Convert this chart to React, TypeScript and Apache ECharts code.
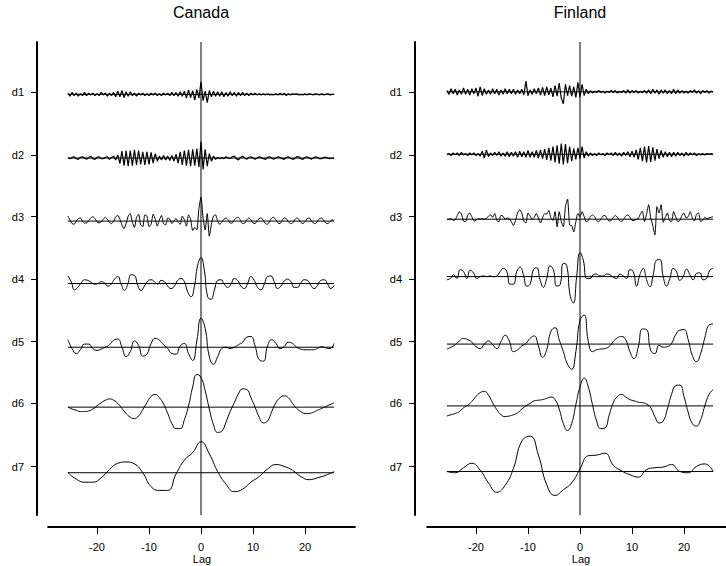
import React, { useEffect, useRef } from "react";
import * as echarts from "echarts";

const ROW_LABELS = ["d1", "d2", "d3", "d4", "d5", "d6", "d7"];
const X_TICKS = [-20, -10, 0, 10, 20];
const LAG_MAX = 25.6;
const FONT = "'Liberation Sans', Arial, Helvetica, sans-serif";

// ---------- Canada ----------
const canadaD1 = [
  0.02, -0.03, 0.03, -0.02, 0.02, -0.03, 0.01, -0.02, 0.03, -0.02,
  0.02, -0.01, 0.02, -0.02, 0.01, -0.02, 0.03, -0.01, 0.02, -0.03,
  0.02, -0.02, 0.03, -0.04, 0.05, -0.04, 0.06, -0.05, 0.04, -0.03,
  0.04, -0.02, 0.02, -0.03, 0.02, -0.01, 0.02, -0.02, 0.01, -0.02,
  0.02, -0.01, 0.02, -0.02, 0.01, -0.02, 0.02, -0.01, 0.02, -0.02,
  0.03, -0.02, 0.03, -0.03, 0.04, -0.03, 0.05, -0.06, 0.07, -0.05,
  0.06, -0.09, 0.08, -0.06, 0.2, -0.1, 0.05, -0.13, 0.06, -0.04,
  0.05, -0.03, 0.04, -0.03, 0.04, -0.04, 0.03, -0.03, 0.04, -0.02,
  0.03, -0.03, 0.03, -0.02, 0.03, -0.02, 0.02, -0.02, 0.02, -0.01,
  0.02, -0.01, 0.01, -0.01, 0.01, -0.01, 0.01, -0.01, 0.0, -0.01,
  0.01, -0.01, 0.02, -0.01, 0.02, -0.02, 0.01, -0.01, 0.01, 0.0,
  0.01, -0.01, 0.0, -0.01, 0.01, -0.01, 0.01, 0.0, -0.01, 0.01,
  0.0, -0.01, 0.01, -0.01, 0.0, 0.01, -0.01, 0.0, 0.0,
];
const canadaD2 = [
  0.0, -0.01, 0.01, 0.02, -0.01, -0.02, 0.01, 0.02, 0.0, -0.02,
  0.01, 0.03, -0.01, -0.02, 0.01, 0.02, -0.01, -0.01, 0.01, 0.02,
  -0.02, 0.01, 0.03, -0.03, 0.05, -0.09, 0.11, -0.12, 0.12, -0.13,
  0.12, -0.12, 0.13, -0.11, 0.12, -0.1, 0.1, -0.11, 0.1, -0.1,
  0.09, -0.08, 0.07, -0.05, 0.03, -0.03, 0.04, -0.03, 0.03, -0.04,
  0.04, -0.05, 0.06, -0.08, 0.1, -0.11, 0.12, -0.12, 0.13, -0.13,
  0.14, -0.12, 0.15, -0.14, 0.26, -0.18, 0.14, -0.13, 0.07, -0.05,
  0.03, -0.02, 0.01, -0.01, 0.01, -0.01, 0.02, 0.0, -0.01, 0.02,
  0.03, -0.01, -0.03, 0.01, 0.03, 0.0, -0.02, 0.01, 0.02, 0.0,
  -0.02, 0.0, 0.02, 0.01, -0.01, -0.02, 0.01, 0.02, 0.0, -0.02,
  0.0, 0.02, 0.01, -0.01, -0.02, 0.01, 0.02, 0.0, -0.02, -0.01,
  0.02, 0.02, -0.01, -0.02, 0.01, 0.02, 0.0, -0.02, 0.0, 0.02,
  0.01, -0.01, -0.01, 0.01, 0.01, 0.0, -0.01, 0.0, 0.0,
];
const canadaD3 = [
  0.08, 0.02, -0.04, -0.05, 0.0, 0.04, 0.05, 0.0, -0.03, -0.03,
  0.01, 0.05, 0.07, 0.04, -0.01, -0.03, -0.01, 0.03, 0.06, 0.03,
  -0.02, -0.04, 0.0, 0.07, 0.09, 0.03, -0.06, -0.12, -0.04, 0.08,
  0.12, -0.02, -0.1, 0.06, 0.11, -0.06, -0.09, 0.1, 0.08, -0.09,
  -0.05, 0.11, 0.03, -0.08, 0.02, 0.09, -0.04, -0.06, 0.05, 0.03,
  -0.04, 0.0, 0.04, -0.02, -0.05, 0.08, 0.02, -0.08, 0.1, 0.03,
  -0.15, -0.1, -0.14, 0.2, 0.38, 0.05, -0.14, 0.12, -0.24, -0.05,
  0.08, 0.1, 0.0, -0.05, -0.02, 0.03, 0.05, 0.02, -0.03, -0.03,
  0.02, 0.05, 0.06, 0.01, -0.04, -0.03, 0.02, 0.05, 0.02, -0.03,
  -0.04, 0.01, 0.04, 0.05, 0.01, -0.04, -0.05, 0.0, 0.05, 0.06,
  0.02, -0.03, -0.04, 0.01, 0.05, 0.04, -0.01, -0.04, -0.03, 0.02,
  0.05, 0.03, -0.02, -0.04, -0.01, 0.04, 0.05, 0.01, -0.03, -0.04,
  0.0, 0.04, 0.05, 0.01, -0.03, -0.04, -0.01, 0.02, 0.01,
];
const canadaD4 = [
  0.12, 0.03, -0.1, -0.06, 0.01, 0.06, 0.05, 0.02, -0.01, 0.0,
  0.03, 0.01, -0.04, -0.01, 0.07, 0.11, -0.01, -0.11, -0.01, 0.14,
  0.13, -0.03, -0.11, -0.04, 0.04, 0.06, 0.03, -0.01, 0.05, 0.03,
  -0.04, -0.08, -0.04, 0.05, 0.08, 0.03, -0.13, -0.21, -0.05, 0.29,
  0.41, 0.21, -0.21, -0.25, -0.11, 0.05, 0.06, -0.01, -0.06, -0.01,
  0.08, 0.05, -0.04, -0.08, 0.0, 0.11, 0.05, -0.06, -0.1, -0.01,
  0.11, 0.12, 0.03, -0.08, -0.04, 0.04, 0.07, 0.03, -0.06, -0.06,
  0.01, 0.06, 0.05, -0.03, -0.08, -0.03, 0.05, 0.06, 0.0, -0.08,
  -0.03,
];
const canadaD5 = [
  0.12, -0.02, -0.1, -0.04, 0.05, 0.05, -0.02, -0.05, -0.03, 0.0,
  0.04, 0.11, 0.13, 0.0, -0.15, -0.07, 0.1, 0.03, -0.14, -0.11,
  0.06, 0.14, 0.11, 0.04, -0.02, -0.1, -0.11, 0.02, 0.06, -0.1,
  -0.21, 0.1, 0.46, 0.3, -0.15, -0.27, -0.15, -0.02, 0.0, -0.02,
  0.0, 0.04, 0.08, 0.16, 0.17, 0.02, -0.2, -0.22, 0.02, 0.12,
  0.06, -0.02, 0.01, 0.08, 0.06, 0.0, -0.03, -0.04, -0.04, -0.04,
  -0.02, 0.01, -0.01, -0.02, 0.06,
];
const canadaD6 = [
  0.0, -0.03, -0.05, -0.07, -0.07, -0.06, -0.03, 0.02, 0.07, 0.11,
  0.13, 0.11, 0.06, -0.02, -0.1, -0.16, -0.18, -0.14, -0.04, 0.07,
  0.17, 0.2, 0.15, 0.05, -0.1, -0.26, -0.34, -0.34, -0.2, 0.02,
  0.32, 0.52, 0.47, 0.26, -0.03, -0.28, -0.4, -0.38, -0.24, -0.07,
  0.07, 0.21, 0.29, 0.28, 0.15, 0.0, -0.16, -0.25, -0.22, -0.07,
  0.07, 0.15, 0.18, 0.15, 0.06, -0.02, -0.07, -0.1, -0.1, -0.08,
  -0.05, -0.02, 0.01, 0.04, 0.07,
];
const canadaD7 = [
  0.0, -0.1, -0.15, -0.15, -0.08, 0.05, 0.15, 0.17, 0.14, 0.0,
  -0.22, -0.28, -0.28, -0.02, 0.2, 0.32, 0.49, 0.3, 0.02, -0.18,
  -0.3, -0.26, -0.15, -0.06, 0.06, 0.13, 0.1, 0.04, -0.06, -0.11,
  -0.08, -0.04, 0.02,
];

// ---------- Finland ----------
const finlandD1 = [
  0.02, -0.04, 0.05, -0.03, 0.04, -0.05, 0.03, -0.04, 0.06, -0.04,
  0.04, -0.05, 0.05, -0.03, 0.06, -0.07, 0.08, -0.06, 0.05, -0.04,
  0.03, -0.04, 0.05, -0.03, 0.04, -0.05, 0.03, -0.04, 0.05, -0.03,
  0.04, -0.03, 0.04, -0.04, 0.03, -0.03, 0.04, -0.05, 0.17, -0.06,
  0.03, -0.04, 0.05, -0.03, 0.06, -0.05, 0.07, -0.06, 0.08, -0.05,
  0.06, -0.08, 0.1, -0.07, 0.14, -0.1, -0.19, 0.12, -0.06, 0.1,
  -0.07, 0.08, -0.09, 0.15, -0.08, 0.12, -0.06, 0.04, -0.03, 0.02,
  -0.02, 0.01, -0.01, 0.02, -0.01, 0.01, -0.02, 0.01, -0.01, 0.02,
  -0.01, 0.02, -0.02, 0.01, -0.01, 0.02, -0.02, 0.03, -0.02, 0.02,
  -0.01, 0.02, -0.02, 0.01, -0.01, 0.02, -0.02, 0.03, -0.03, 0.04,
  -0.02, 0.03, -0.04, 0.03, -0.02, 0.03, -0.03, 0.02, -0.03, 0.04,
  -0.03, 0.03, -0.02, 0.02, -0.02, 0.01, -0.02, 0.02, -0.01, 0.03,
  -0.02, 0.02, -0.03, 0.02, -0.01, 0.02, -0.02, 0.01, 0.0,
];
const finlandD2 = [
  0.0, 0.01, -0.02, 0.02, -0.01, 0.02, -0.02, 0.03, -0.01, 0.01,
  -0.02, 0.02, -0.01, 0.02, -0.02, 0.01, -0.03, 0.05, -0.06, 0.07,
  -0.04, 0.02, -0.02, 0.03, -0.02, 0.04, -0.03, 0.02, -0.03, 0.04,
  -0.04, 0.03, -0.03, 0.04, -0.05, 0.05, -0.04, 0.04, -0.05, 0.06,
  -0.05, 0.04, -0.05, 0.06, -0.06, 0.07, -0.07, 0.08, -0.09, 0.1,
  -0.1, 0.12, -0.13, 0.14, -0.15, 0.17, -0.16, 0.16, -0.14, 0.12,
  -0.11, 0.09, -0.08, 0.1, -0.07, 0.12, -0.06, 0.04, -0.03, 0.02,
  -0.02, 0.01, -0.02, 0.02, -0.01, 0.01, -0.02, 0.02, -0.01, 0.02,
  -0.02, 0.03, -0.02, 0.02, -0.03, 0.03, -0.02, 0.04, -0.04, 0.05,
  -0.05, 0.07, -0.08, 0.1, -0.11, 0.12, -0.13, 0.13, -0.12, 0.11,
  -0.1, 0.08, -0.07, 0.06, -0.05, 0.04, -0.04, 0.03, -0.04, 0.03,
  -0.03, 0.03, -0.02, 0.02, -0.03, 0.03, -0.02, 0.02, -0.01, 0.02,
  -0.02, 0.01, -0.01, 0.01, -0.01, 0.01, 0.0, 0.01, 0.0,
];
const finlandD3 = [
  -0.01, 0.0, 0.01, -0.02, -0.01, 0.06, 0.12, 0.08, -0.03, -0.04,
  0.06, 0.1, 0.04, -0.03, -0.02, 0.01, 0.0, 0.01, 0.0, 0.01,
  0.05, 0.07, 0.03, 0.09, -0.02, -0.04, 0.06, 0.05, 0.0, 0.02,
  0.01, -0.04, -0.1, -0.02, 0.1, 0.15, 0.1, -0.03, -0.06, 0.1,
  0.05, 0.0, 0.03, 0.09, 0.02, -0.06, 0.02, 0.09, 0.08, 0.14,
  0.02, -0.02, 0.12, -0.12, 0.12, -0.04, -0.12, 0.2, 0.32, -0.09,
  -0.1, -0.2, -0.04, 0.09, 0.04, 0.12, 0.04, -0.04, -0.02, 0.04,
  0.07, 0.04, -0.02, -0.04, 0.0, 0.05, 0.06, 0.01, -0.03, -0.02,
  0.03, 0.06, 0.03, -0.02, -0.04, 0.0, 0.05, 0.07, 0.03, -0.02,
  -0.02, 0.0, 0.01, 0.08, 0.13, -0.04, 0.08, 0.23, 0.02, -0.1,
  -0.25, 0.2, 0.1, 0.23, -0.05, 0.03, 0.1, -0.02, -0.04, 0.12,
  0.04, -0.04, -0.02, 0.06, 0.1, 0.02, 0.04, 0.12, 0.02, -0.03,
  0.08, 0.1, -0.04, -0.02, 0.03, 0.01, 0.02, 0.03, 0.04,
];
const finlandD4 = [
  -0.05, -0.03, 0.03, -0.03, 0.11, 0.08, -0.03, 0.1, 0.06, -0.03,
  0.0, 0.01, 0.0, 0.01, 0.0, 0.01, 0.08, 0.13, 0.08, -0.12,
  -0.12, 0.08, 0.15, 0.03, -0.15, -0.12, 0.11, 0.14, -0.05, -0.17,
  -0.03, 0.17, 0.11, -0.15, -0.13, 0.21, 0.18, -0.29, -0.42, 0.0,
  0.38, 0.26, -0.03, -0.03, 0.03, 0.04, 0.01, 0.01, 0.04, 0.03,
  -0.01, -0.03, 0.04, 0.01, -0.03, 0.11, 0.08, -0.15, 0.03, 0.13,
  -0.05, -0.16, 0.03, 0.26, 0.27, 0.0, -0.15, -0.03, 0.13, 0.08,
  -0.06, 0.0, 0.12, 0.03, -0.05, 0.05, 0.06, -0.05, -0.03, 0.1,
  0.13,
];
const finlandD5 = [
  -0.08, -0.05, -0.01, 0.05, 0.09, 0.07, 0.03, -0.04, -0.07, 0.0,
  0.05, -0.01, -0.07, 0.04, 0.14, 0.05, -0.12, -0.09, -0.03, 0.01,
  0.09, 0.13, -0.03, -0.21, -0.09, 0.2, 0.26, 0.07, -0.12, -0.32,
  -0.4, -0.12, 0.38, 0.46, 0.04, -0.12, -0.09, -0.08, -0.07, -0.04,
  0.04, 0.1, 0.12, 0.07, -0.12, -0.23, -0.05, 0.24, 0.23, -0.1,
  -0.15, -0.02, -0.05, -0.04, 0.01, 0.15, 0.22, 0.23, 0.07, -0.18,
  -0.28, -0.15, 0.1, 0.3, 0.32,
];
const finlandD6 = [
  -0.16, -0.14, -0.12, -0.09, -0.03, 0.01, 0.07, 0.15, 0.21, 0.23,
  0.17, 0.05, -0.06, -0.14, -0.17, -0.16, -0.14, -0.11, -0.05, 0.0,
  0.04, 0.08, 0.09, 0.1, 0.12, 0.14, 0.1, -0.05, -0.28, -0.39,
  -0.28, 0.02, 0.3, 0.44, 0.3, 0.02, -0.24, -0.36, -0.35, -0.15,
  0.05, 0.15, 0.18, 0.14, 0.1, 0.08, 0.06, 0.05, 0.03, -0.03,
  -0.17, -0.27, -0.24, -0.05, 0.18, 0.32, 0.33, 0.15, -0.1, -0.28,
  -0.32, -0.22, 0.0, 0.18, 0.26,
];
const finlandD7 = [
  0.0, -0.02, 0.06, 0.13, 0.02, -0.18, -0.33, -0.22, 0.05, 0.48,
  0.56, 0.26, -0.21, -0.38, -0.29, -0.18, 0.04, 0.25, 0.26, 0.29,
  0.1, 0.01, -0.05, -0.09, 0.03, 0.06, 0.07, 0.11, 0.0, -0.02,
  0.08, 0.12, 0.0,
];

// layout (row baselines / label ticks in row units; grid spans 0..7.5)
const TICK_POS = [0.798, 1.792, 2.77, 3.758, 4.752, 5.729, 6.734];
const PANELS = [
  {
    title: "Canada",
    rows: [canadaD1, canadaD2, canadaD3, canadaD4, canadaD5, canadaD6, canadaD7],
    rowPos: [0.83, 1.84, 2.84, 3.83, 4.84, 5.79, 6.83],
    left: 48.12, width: 306.8, xMin: -29.4, xMax: 29.6, yOffset: 11, zeroX: 201,
  },
  {
    title: "Finland",
    rows: [finlandD1, finlandD2, finlandD3, finlandD4, finlandD5, finlandD6, finlandD7],
    rowPos: [0.79, 1.78, 2.81, 3.72, 4.79, 5.77, 6.81],
    left: 427.12, width: 298.48, xMin: -29.4, xMax: 28.0, yOffset: 12, zeroX: 580,
  },
];
const Y_MAX = 7.5;

export default function App() {
  const ref = useRef<HTMLDivElement>(null);
  useEffect(() => {
    document.body.style.margin = "0";
    if (!ref.current) return;
    const chart = echarts.init(ref.current, undefined, { renderer: "svg" });
    const grids: any[] = [];
    const xAxes: any[] = [];
    const yAxes: any[] = [];
    const series: any[] = [];
    const graphics: any[] = [];
    PANELS.forEach((p, pi) => {
      grids.push({ left: p.left, top: 42, width: p.width, height: 473 });
      xAxes.push({
        gridIndex: pi, type: "value", min: p.xMin, max: p.xMax, offset: 12, position: "bottom",
        axisLine: { show: true, onZero: false, lineStyle: { color: "#000", width: 2 } },
        axisTick: { show: true, customValues: X_TICKS, length: 7, lineStyle: { color: "#000", width: 1 } },
        axisLabel: { customValues: X_TICKS, fontSize: 11, color: "#000", margin: 14, fontFamily: FONT },
        splitLine: { show: false },
      });
      yAxes.push({
        gridIndex: pi, type: "value", inverse: true, min: 0, max: Y_MAX, offset: p.yOffset, position: "left",
        axisLine: { show: true, onZero: false, lineStyle: { color: "#000", width: 2 } },
        axisTick: { show: true, customValues: TICK_POS, length: 6, lineStyle: { color: "#000", width: 1 } },
        axisLabel: {
          customValues: TICK_POS, fontSize: 11, color: "#000", margin: 13, fontFamily: FONT,
          formatter: (v: number) => {
            let best = 0;
            TICK_POS.forEach((t, i) => { if (Math.abs(t - v) < Math.abs(TICK_POS[best] - v)) best = i; });
            return ROW_LABELS[best];
          },
        },
        splitLine: { show: false },
      });
      // vertical zero-lag line
      series.push({
        type: "line", xAxisIndex: pi, yAxisIndex: pi, symbol: "none", silent: true,
        data: [[0, 0], [0, Y_MAX]], lineStyle: { color: "#000", width: 1 },
      });
      p.rows.forEach((vals, r) => {
        const base = p.rowPos[r];
        series.push({
          type: "line", xAxisIndex: pi, yAxisIndex: pi, symbol: "none", silent: true,
          data: [[-LAG_MAX, base], [LAG_MAX, base]], lineStyle: { color: "#000", width: 1 },
        });
        const n = vals.length;
        series.push({
          type: "line", xAxisIndex: pi, yAxisIndex: pi, symbol: "none", silent: true,
          smooth: r >= 3 ? 0.5 : r === 2 ? 0.2 : false,
          data: vals.map((v, i) => [-LAG_MAX + (i * 2 * LAG_MAX) / (n - 1), base - v]),
          lineStyle: { color: "#000", width: r < 2 ? 1.2 : 1 },
        });
      });
      graphics.push({
        type: "text", x: p.zeroX, y: 12,
        style: { text: p.title, fontSize: 16, fill: "#000", fontFamily: FONT, textAlign: "center", textVerticalAlign: "middle" },
      });
      graphics.push({
        type: "text", x: p.zeroX + 1, y: 559,
        style: { text: "Lag", fontSize: 11, fill: "#000", fontFamily: FONT, textAlign: "center", textVerticalAlign: "middle" },
      });
    });
    chart.setOption({
      animation: false,
      backgroundColor: "#fff",
      textStyle: { fontFamily: FONT },
      grid: grids,
      xAxis: xAxes,
      yAxis: yAxes,
      series,
      graphic: graphics,
    });
    return () => chart.dispose();
  }, []);
  return <div ref={ref} style={{ width: 726, height: 566 }} />;
}
